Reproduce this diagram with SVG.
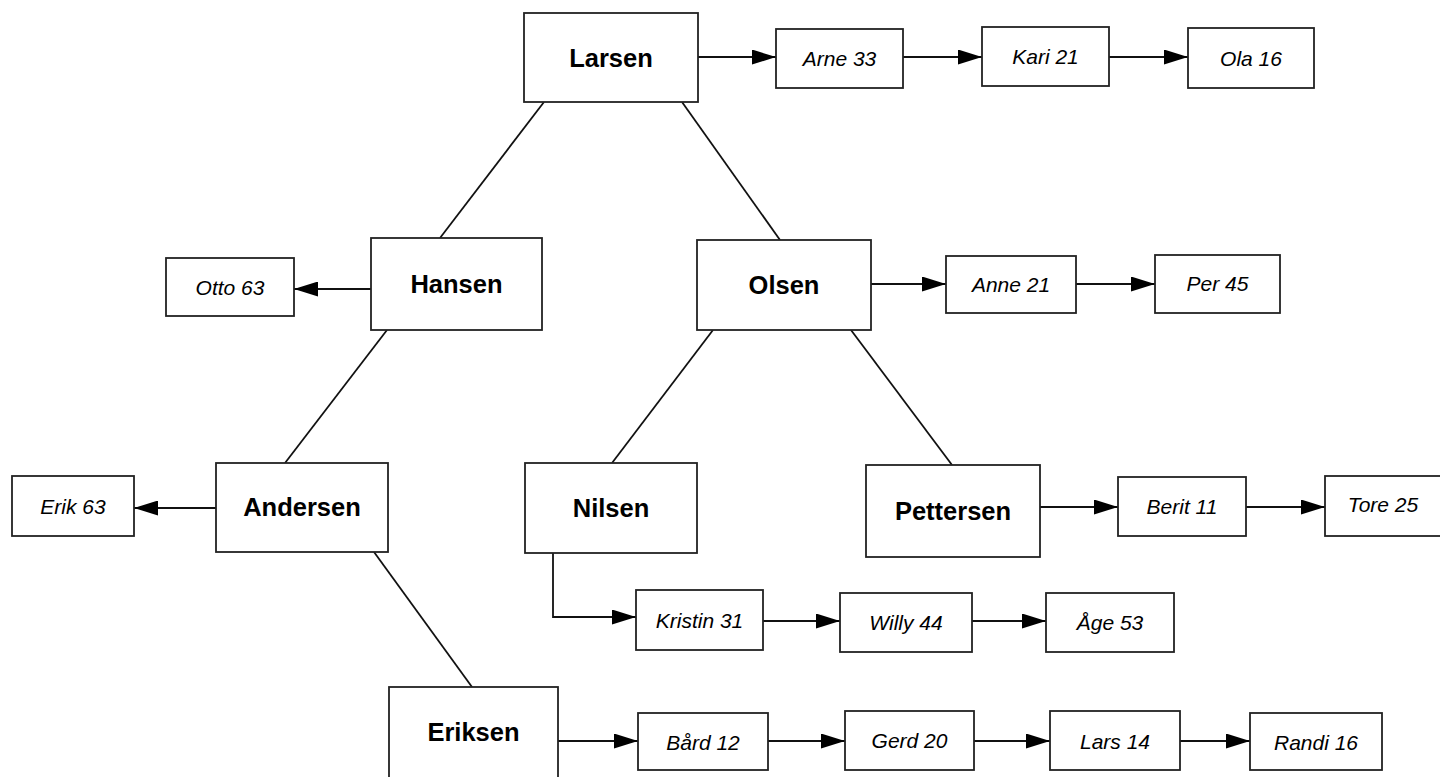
<svg xmlns="http://www.w3.org/2000/svg" width="1440" height="777" viewBox="0 0 1440 777">
<style>
.box{fill:#fff;stroke:#222;stroke-width:1.8}
.fam{font-family:"Liberation Sans",Arial,sans-serif;font-weight:bold;font-size:25.5px;fill:#000;text-anchor:middle;dominant-baseline:central}
.per{font-family:"Liberation Sans",Arial,sans-serif;font-style:italic;font-size:21px;fill:#000;text-anchor:middle;dominant-baseline:central}
.ln{fill:none;stroke:#111;stroke-width:1.8}
.ar{fill:none;stroke:#111;stroke-width:1.8;marker-end:url(#ah)}
</style>
<defs>
<marker id="ah" viewBox="0 0 24 15" refX="24" refY="7.5" markerWidth="24" markerHeight="15" markerUnits="userSpaceOnUse" orient="auto">
<path d="M0,0 L24,7.5 L0,15 Z" fill="#000"/>
</marker>
</defs>
<rect width="1440" height="777" fill="#fff"/>
<g id="connectors">
<line class="ln" x1="544" y1="102" x2="440" y2="238"/>
<line class="ln" x1="682" y1="102" x2="780" y2="240"/>
<line class="ln" x1="387" y1="330" x2="285" y2="463"/>
<line class="ln" x1="713" y1="330" x2="612" y2="463"/>
<line class="ln" x1="851" y1="330" x2="952" y2="465"/>
<line class="ln" x1="374" y1="552" x2="472" y2="687"/>
<path class="ar" d="M553,553 V617 H636"/>
<line class="ar" x1="698" y1="57" x2="776" y2="57"/>
<line class="ar" x1="903" y1="57" x2="982" y2="57"/>
<line class="ar" x1="1109" y1="57" x2="1188" y2="57"/>
<line class="ar" x1="371" y1="289" x2="294" y2="289"/>
<line class="ar" x1="871" y1="284" x2="946" y2="284"/>
<line class="ar" x1="1076" y1="284" x2="1155" y2="284"/>
<line class="ar" x1="216" y1="508" x2="134" y2="508"/>
<line class="ar" x1="1040" y1="507" x2="1118" y2="507"/>
<line class="ar" x1="1246" y1="507" x2="1325" y2="507"/>
<line class="ar" x1="763" y1="621" x2="840" y2="621"/>
<line class="ar" x1="972" y1="621" x2="1046" y2="621"/>
<line class="ar" x1="558" y1="741" x2="638" y2="741"/>
<line class="ar" x1="768" y1="741" x2="845" y2="741"/>
<line class="ar" x1="974" y1="741" x2="1050" y2="741"/>
<line class="ar" x1="1180" y1="741" x2="1250" y2="741"/>
</g>
<g id="larsen"><rect class="box" x="524" y="13" width="174" height="89"/><text class="fam" x="611" y="58">Larsen</text></g>
<g id="arne"><rect class="box" x="776" y="29" width="127" height="59"/><text class="per" x="839.5" y="58">Arne 33</text></g>
<g id="kari"><rect class="box" x="982" y="27" width="127" height="59"/><text class="per" x="1045.5" y="56">Kari 21</text></g>
<g id="ola"><rect class="box" x="1188" y="28" width="126" height="60"/><text class="per" x="1251" y="58">Ola 16</text></g>
<g id="hansen"><rect class="box" x="371" y="238" width="171" height="92"/><text class="fam" x="456.5" y="284">Hansen</text></g>
<g id="otto"><rect class="box" x="166" y="258" width="128" height="58"/><text class="per" x="230" y="287">Otto 63</text></g>
<g id="olsen"><rect class="box" x="697" y="240" width="174" height="90"/><text class="fam" x="784" y="285">Olsen</text></g>
<g id="anne"><rect class="box" x="946" y="256" width="130" height="57"/><text class="per" x="1011" y="284">Anne 21</text></g>
<g id="per"><rect class="box" x="1155" y="255" width="125" height="58"/><text class="per" x="1217.5" y="283">Per 45</text></g>
<g id="andersen"><rect class="box" x="216" y="463" width="172" height="89"/><text class="fam" x="302" y="507">Andersen</text></g>
<g id="erik"><rect class="box" x="12" y="476" width="122" height="60"/><text class="per" x="73" y="506">Erik 63</text></g>
<g id="nilsen"><rect class="box" x="525" y="463" width="172" height="90"/><text class="fam" x="611" y="508">Nilsen</text></g>
<g id="pettersen"><rect class="box" x="866" y="465" width="174" height="92"/><text class="fam" x="953" y="511">Pettersen</text></g>
<g id="berit"><rect class="box" x="1118" y="477" width="128" height="59"/><text class="per" x="1182" y="506">Berit 11</text></g>
<g id="tore"><rect class="box" x="1325" y="476" width="127" height="60"/><text class="per" x="1383" y="504">Tore 25</text></g>
<g id="kristin"><rect class="box" x="636" y="590" width="127" height="60"/><text class="per" x="699.5" y="620">Kristin 31</text></g>
<g id="willy"><rect class="box" x="840" y="593" width="132" height="59"/><text class="per" x="906" y="622">Willy 44</text></g>
<g id="aage"><rect class="box" x="1046" y="593" width="128" height="59"/><text class="per" x="1110" y="622">Åge 53</text></g>
<g id="eriksen"><rect class="box" x="389" y="687" width="169" height="94"/><text class="fam" x="473.5" y="732">Eriksen</text></g>
<g id="baard"><rect class="box" x="638" y="713" width="130" height="57"/><text class="per" x="703" y="742">Bård 12</text></g>
<g id="gerd"><rect class="box" x="845" y="711" width="129" height="59"/><text class="per" x="909.5" y="740">Gerd 20</text></g>
<g id="lars"><rect class="box" x="1050" y="711" width="130" height="59"/><text class="per" x="1115" y="741">Lars 14</text></g>
<g id="randi"><rect class="box" x="1250" y="713" width="132" height="57"/><text class="per" x="1316" y="742">Randi 16</text></g>
</svg>
